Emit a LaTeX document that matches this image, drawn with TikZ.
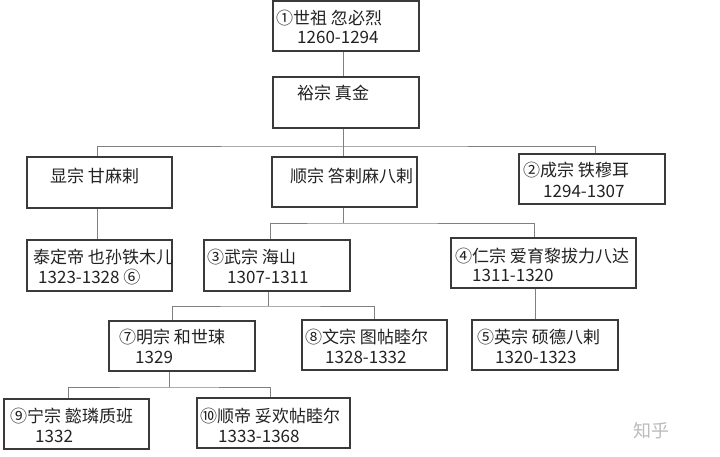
\documentclass[tikz,border=0pt]{standalone}
\usepackage{fontspec}
\setmainfont{Noto Sans CJK SC}
\definecolor{boxline}{HTML}{3A3A3A}
\definecolor{conline}{HTML}{808080}
\definecolor{txt}{HTML}{222222}
\definecolor{wm}{HTML}{BBBBBB}
\tikzset{
  box/.style={draw=boxline, line width=1.2pt, rectangle, inner sep=0pt, fill=white},
  lbl/.style={anchor=base west, inner sep=0pt, text=txt, font=\fontsize{17}{20}\selectfont},
  con/.style={draw=conline, line width=0.9pt}
}
\begin{document}
\begin{tikzpicture}[x=1pt,y=-1pt]
\useasboundingbox[fill=white] (0,0) rectangle (720,456);
% boxes
\node[box, minimum width=146pt, minimum height=50pt] (b1) at (346,26) {};
\node[box, minimum width=146pt, minimum height=51pt] (b2) at (346,102.5) {};
\node[box, minimum width=145pt, minimum height=51pt] (b3) at (99.5,182.5) {};
\node[box, minimum width=145pt, minimum height=50pt] (b4) at (344.5,182) {};
\node[box, minimum width=146pt, minimum height=50pt] (b5) at (592,179) {};
\node[box, minimum width=145pt, minimum height=51pt] (b6) at (99.5,265.5) {};
\node[box, minimum width=146pt, minimum height=51pt] (b7) at (277,265.5) {};
\node[box, minimum width=185pt, minimum height=50pt] (b8) at (543.5,263) {};
\node[box, minimum width=146pt, minimum height=50pt] (b9) at (182,346) {};
\node[box, minimum width=145pt, minimum height=50pt] (b10) at (374.5,345) {};
\node[box, minimum width=146pt, minimum height=50pt] (b11) at (545,345) {};
\node[box, minimum width=145pt, minimum height=50pt] (b12) at (76.5,424) {};
\node[box, minimum width=153pt, minimum height=50pt] (b13) at (273.5,423) {};
% junctions
\coordinate (j1) at (343,146);
\coordinate (j2) at (343,223);
\coordinate (j3) at (268,306);
\coordinate (j4) at (169,387);
% connectors
\draw[con] ([xshift=-3pt]b1.south) -- ([xshift=-3pt]b2.north);
\draw[con] (b2.south -| j1) -- (b4.north -| j1);
\draw[con] ([xshift=-2.5pt]b3.north) |- (j1) -| ([xshift=3pt]b5.north);
\draw[con] ([xshift=-2.5pt]b3.south) -- ([xshift=-2.5pt]b6.north);
\draw[con] (b4.south -| j2) -- (j2);
\draw[con] ([xshift=-7pt]b7.north) |- (j2) -| ([xshift=-9.5pt]b8.north);
\draw[con] (b7.south -| j3) -- (j3);
\draw[con] ([xshift=-10pt]b9.north) |- (j3) -| (b10.north);
\draw[con] ([xshift=-8.5pt]b8.south) -- ([xshift=-10pt]b11.north);
\draw[con] (b9.south -| j4) -- (j4);
\draw[con] ([xshift=-8.5pt]b12.north) |- (j4) -| ([xshift=-3.5pt]b13.north);
% labels
\node[lbl] (t1a) at (276,24) {①世祖 忽必烈};
\node[lbl] (t1b) at (297,43) {1260-1294};
\node[lbl] (t2a) at (297,99) {裕宗 真金};
\node[lbl] (t3a) at (50,182) {显宗 甘麻剌};
\node[lbl] (t4a) at (290,182) {顺宗 答剌麻八剌};
\node[lbl] (t5a) at (523,176) {②成宗 铁穆耳};
\node[lbl] (t5b) at (543,197) {1294-1307};
\node[lbl] (t6a) at (33,263) {泰定帝 也孙铁木儿};
\node[lbl] (t6b) at (38,283) {1323-1328 ⑥};
\node[lbl] (t7a) at (207,263) {③武宗 海山};
\node[lbl] (t7b) at (227,283) {1307-1311};
\node[lbl] (t8a) at (455,262) {④仁宗 爱育黎拔力八达};
\node[lbl] (t8b) at (472,281) {1311-1320};
\node[lbl] (t9a) at (119,343) {⑦明宗 和世㻋};
\node[lbl] (t9b) at (135,363) {1329};
\node[lbl] (t10a) at (305,343) {⑧文宗 图帖睦尔};
\node[lbl] (t10b) at (325,363) {1328-1332};
\node[lbl] (t11a) at (477,343) {⑤英宗 硕德八剌};
\node[lbl] (t11b) at (495,363) {1320-1323};
\node[lbl] (t12a) at (10,422) {⑨宁宗 懿璘质班};
\node[lbl] (t12b) at (35,442) {1332};
\node[lbl] (t13a) at (200,422) {⑩顺帝 妥欢帖睦尔};
\node[lbl] (t13b) at (218,442) {1333-1368};
% watermark
\node[anchor=base west, inner sep=0pt, text=wm, font=\fontsize{18}{20}\selectfont] (wmk) at (633,437) {知乎};
\end{tikzpicture}
\end{document}
